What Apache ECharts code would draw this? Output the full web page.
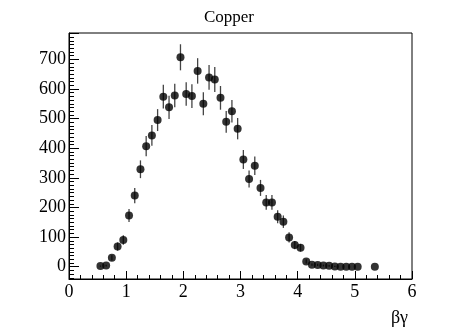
<!DOCTYPE html>
<html>
<head>
<meta charset="utf-8">
<script src="https://cdn.jsdelivr.net/npm/echarts@6/dist/echarts.min.js"></script>
<style>
    html, body { margin: 0; padding: 0; background: #fff; }
    #chart { width: 458px; height: 329px; }
</style>
</head>
<body>
<div id="chart"></div>
<script>
// bin centres (beta*gamma)
var BetaGamma = [0.55, 0.65, 0.75, 0.85, 0.95, 1.05, 1.15, 1.25, 1.35, 1.45,
    1.55, 1.65, 1.75, 1.85, 1.95, 2.05, 2.15, 2.25, 2.35, 2.45,
    2.55, 2.65, 2.75, 2.85, 2.95, 3.05, 3.15, 3.25, 3.35, 3.45,
    3.55, 3.65, 3.75, 3.85, 3.95, 4.05, 4.15, 4.25, 4.35, 4.45,
    4.55, 4.65, 4.75, 4.85, 4.95, 5.05, 5.35];
// entries per bin
var Counts = [2, 4, 30, 68, 90, 173, 240, 329, 407, 443,
    495, 574, 538, 578, 707, 583, 576, 661, 550, 639,
    632, 570, 489, 525, 466, 362, 296, 341, 266, 217,
    217, 169, 152, 99, 73, 64, 18, 7, 6, 4,
    3, 1, 0, 0, 0, 0, 0];
// error bar half-heights
var Errors = [2, 3, 9, 14, 16, 22, 26, 30, 34, 35,
    37, 40, 39, 40, 44, 40, 40, 43, 39, 42,
    42, 40, 37, 38, 36, 32, 29, 31, 27, 25,
    25, 22, 21, 17, 14, 13, 7, 4, 4, 3,
    3, 2, 0, 0, 0, 0, 0];

var Title = 'Copper';
var XName = 'βγ';

var font = 'Liberation Serif';
var chart = echarts.init(document.getElementById('chart'));

var points = BetaGamma.map(function (x, i) { return [x, Counts[i]]; });
var bars = BetaGamma.map(function (x, i) { return [x, Counts[i], Errors[i]]; });

var option = {
    animation: false,
    title: {
        text: Title,
        left: 'center',
        top: 4,
        textStyle: { fontFamily: font, fontSize: 17, fontWeight: 'normal', color: '#000' }
    },
    grid: {
        left: 69, right: 46, top: 33, bottom: 50,
        show: true, borderColor: '#000', borderWidth: 1
    },
    xAxis: {
        type: 'value',
        min: 0, max: 6, interval: 1,
        name: XName,
        nameLocation: 'end',
        nameGap: 0,
        nameTextStyle: {
            fontFamily: font, fontSize: 18, color: '#000',
            align: 'right', verticalAlign: 'top', padding: [30, 4, 0, 0]
        },
        axisLine: { show: true, onZero: false, lineStyle: { color: '#000', width: 1 } },
        axisTick: { show: true, inside: true, length: 8, lineStyle: { color: '#000' } },
        minorTick: { show: true, splitNumber: 5, length: 4, lineStyle: { color: '#000' } },
        splitLine: { show: false },
        axisLabel: { fontFamily: font, fontSize: 18, color: '#000', margin: 4 }
    },
    yAxis: {
        type: 'value',
        min: -41.5, max: 789,
        splitNumber: 8,
        axisLine: { show: true, onZero: false, lineStyle: { color: '#000', width: 1 } },
        axisTick: { show: true, inside: true, length: 10, lineStyle: { color: '#000' } },
        minorTick: { show: true, splitNumber: 8, length: 5, lineStyle: { color: '#000' } },
        splitLine: { show: false },
        axisLabel: {
            fontFamily: font, fontSize: 18, color: '#000', margin: 3,
            showMinLabel: false, showMaxLabel: false
        }
    },
    series: [
        {
            // vertical error bars
            type: 'custom',
            data: bars,
            renderItem: function (params, api) {
                var x = api.value(0), y = api.value(1), e = api.value(2);
                var lo = api.coord([x, y - e]);
                var hi = api.coord([x, y + e]);
                return {
                    type: 'line',
                    shape: { x1: lo[0], y1: lo[1], x2: hi[0], y2: hi[1] },
                    style: { stroke: '#444', lineWidth: 1.3 }
                };
            },
            z: 2
        },
        {
            type: 'scatter',
            data: points,
            symbol: 'circle',
            symbolSize: 8,
            itemStyle: { color: '#000' },
            z: 3
        }
    ]
};

chart.setOption(option);
</script>
</body>
</html>
